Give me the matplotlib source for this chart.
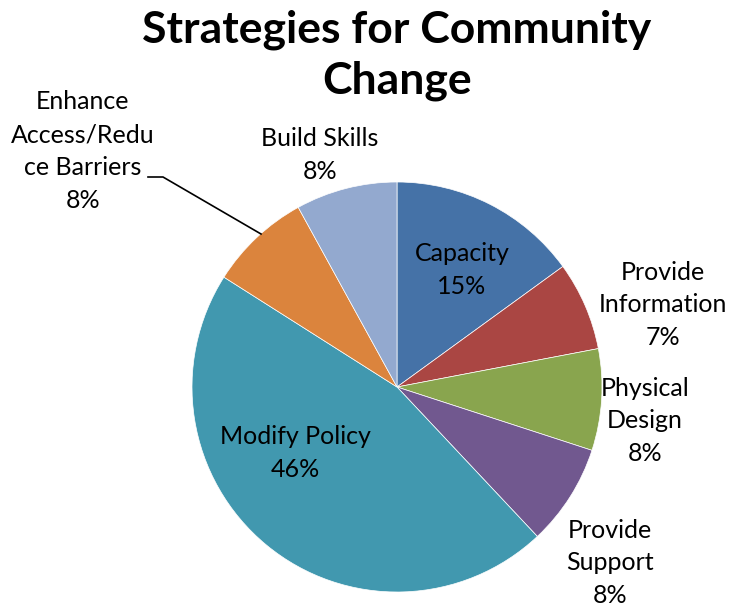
import matplotlib
matplotlib.use("Agg")
import matplotlib.pyplot as plt
import numpy as np

plt.rcParams['font.family'] = ['Lato', 'DejaVu Sans']

categories = ["Capacity", "Provide\nInformation", "Physical\nDesign", "Provide\nSupport",
              "Modify Policy", "Enhance\nAccess/Redu\nce Barriers", "Build Skills"]
values = [15, 7, 8, 8, 46, 8, 8]
colors = ["#4572A7", "#AA4643", "#89A54E", "#71588F", "#4198AF", "#DB843D", "#93A9CF"]
title = "Strategies for Community\nChange"

W, H = 733, 607
cx, cy, R = 397, 387, 205

fig = plt.figure(figsize=(W / 100, H / 100), dpi=100)
ax = fig.add_axes([0, 0, 1, 1])

wedges, _ = ax.pie(values, colors=colors, startangle=90, counterclock=False,
                   radius=1.0, center=(0, 0),
                   wedgeprops=dict(edgecolor='white', linewidth=0.5))
ax.set_xlim((0 - cx) / R, (W - cx) / R)
ax.set_ylim((cy - H) / R, cy / R)
ax.set_aspect('equal')
ax.axis('off')

# label placement (pixel centers -> data coords)
label_px = [(462, 270), (663, 305), (645, 421), (610, 563), (295, 453), (83, 151), (320, 155)]
total = sum(values)
for cat, v, (px, py) in zip(categories, values, label_px):
    pct = int(round(100 * v / total))
    ax.text((px - cx) / R, (cy - py) / R, f"{cat}\n{pct}%", ha='center', va='center',
            fontsize=18, color='black', linespacing=1.52)

# leader line for Enhance Access label
pts = [(148, 177), (163, 177), (261, 234)]
ax.plot([(p[0] - cx) / R for p in pts], [(cy - p[1]) / R for p in pts],
        color='black', linewidth=1.2)

fig.text(397 / W, 1 - 55 / H, title, ha='center', va='center', fontsize=32,
         fontweight='bold', color='black', linespacing=1.32)

fig.savefig("out.png", dpi=100, facecolor='white')
